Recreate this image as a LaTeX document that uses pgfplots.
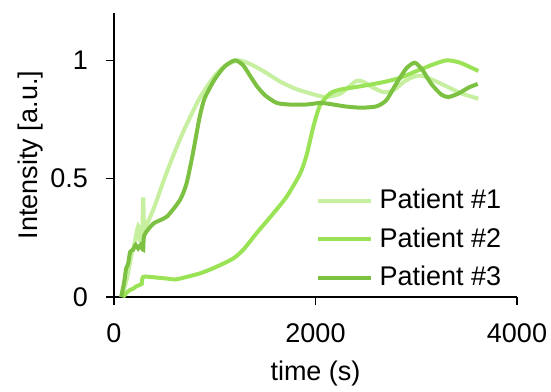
\documentclass[border=0pt]{standalone}
\usepackage{pgfplots}
\pgfplotsset{compat=1.18}
\usepackage{fontspec}
\setmainfont{Liberation Sans}
\definecolor{pone}{RGB}{198,240,160}
\definecolor{ptwo}{RGB}{155,227,86}
\definecolor{pthree}{RGB}{124,193,66}
\begin{document}
\fontsize{27}{32}\selectfont
\begin{tikzpicture}
\path[use as bounding box] (-114pt,-94pt) rectangle (437pt,297pt);
\begin{axis}[
  at={(0,0)}, anchor=south west,
  scale only axis, width=403pt, height=284pt,
  xmin=0, xmax=4000, ymin=0, ymax=1.2,
  axis x line*=bottom, axis y line*=left,
  axis line style={line width=1.5pt, -},
  xtick={0,2000,4000}, ytick={0,0.5,1},
  yticklabels={0,0.5,1},
  scaled x ticks=false,
  xticklabel style={/pgf/number format/1000 sep={}, yshift=-9pt},
  yticklabel style={xshift=-9pt},
  tick align=outside, major tick length=8pt,
  tick style={line width=1.5pt, black},
  /pgf/number format/assume math mode=true,
  ticklabel style={font=\fontsize{27}{32}\selectfont},
  label style={font=\fontsize{27}{32}\selectfont},
  xlabel={time (s)}, ylabel={Intensity [a.u.]},
  xlabel style={at={(axis description cs:0.5,-0.2923)}, anchor=base},
  ylabel style={at={(axis description cs:-0.208,0.5)}, anchor=center},
  legend style={draw=none, fill=none, at={(axis cs:2000,0.466)}, anchor=north west,
    font=\fontsize{27}{32}\selectfont, row sep=11pt, inner sep=0pt},
  legend cell align=left,
  legend image code/.code={\draw[#1] (0pt,0pt) -- (53pt,0pt); \path (58pt,0pt);},
  every axis plot/.append style={line width=4pt, smooth, tension=0.4},
]
\addplot[pone] coordinates {
(76,0) (130,0.08) (170,0.17) (200,0.22) (240,0.30) (255,0.24) (280,0.27) (290,0.42) (300,0.28)
(330,0.31) (400,0.38) (500,0.50) (600,0.61) (700,0.71) (850,0.84) (1000,0.935) (1100,0.975)
(1230,1.0) (1350,0.985) (1500,0.95) (1650,0.91) (1800,0.88) (1950,0.86) (2100,0.845)
(2250,0.86) (2400,0.912) (2470,0.91) (2570,0.885) (2680,0.865) (2780,0.875) (2880,0.91)
(2970,0.93) (3050,0.935) (3150,0.92) (3300,0.89) (3450,0.86) (3616,0.838)
};
\addlegendentry{Patient \#1}
\addplot[ptwo] coordinates {
(90,0) (130,0.02) (160,0.03) (190,0.035) (220,0.045) (250,0.05) (275,0.055) (290,0.085)
(400,0.083) (523,0.078) (622,0.075) (854,0.10) (1019,0.128) (1184,0.163) (1284,0.20)
(1416,0.27) (1581,0.353) (1714,0.424) (1846,0.52) (1912,0.60) (1979,0.72) (2045,0.81)
(2144,0.86) (2243,0.876) (2442,0.89) (2674,0.908) (2839,0.926) (3004,0.955) (3170,0.983)
(3302,1.0) (3435,0.99) (3616,0.955)
};
\addlegendentry{Patient \#2}
\addplot[pthree] coordinates {
(70,0) (100,0.06) (120,0.12) (140,0.14) (160,0.19) (190,0.20) (215,0.22) (240,0.205)
(265,0.22) (290,0.20) (300,0.26) (390,0.31) (525,0.34) (655,0.41) (720,0.48) (780,0.60)
(850,0.76) (900,0.84) (1000,0.92) (1100,0.975) (1200,1.0) (1280,0.98) (1350,0.935)
(1420,0.89) (1500,0.852) (1615,0.82) (1750,0.813) (1900,0.813) (2050,0.82) (2150,0.815)
(2300,0.805) (2450,0.80) (2600,0.805) (2700,0.83) (2800,0.9) (2900,0.965) (2985,0.99)
(3060,0.96) (3150,0.9) (3250,0.855) (3320,0.845) (3420,0.86) (3520,0.885) (3610,0.90)
};
\addlegendentry{Patient \#3}
\end{axis}
\end{tikzpicture}
\end{document}
